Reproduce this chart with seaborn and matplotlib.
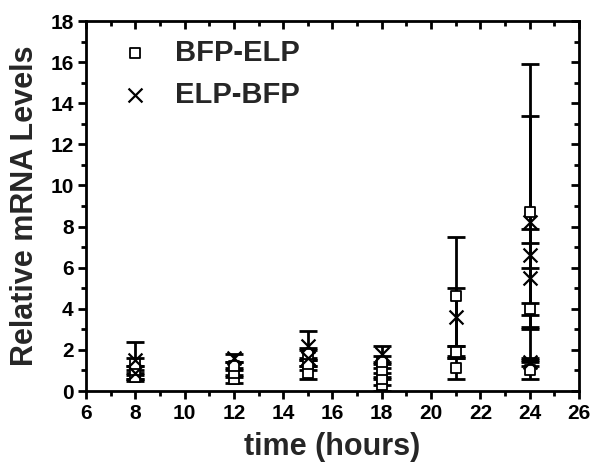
import numpy as np
import pandas as pd
import matplotlib
matplotlib.use("Agg")
import matplotlib.pyplot as plt
import seaborn as sns
from matplotlib.ticker import MultipleLocator

# Replicate measurements of relative mRNA levels over time
bfp_elp_time = [8, 8, 8, 12, 12, 12, 15, 15, 15, 18, 18, 18, 18, 21, 21, 21, 24, 24, 24]
bfp_elp_level = [0.7, 1.0, 1.3, 0.6, 0.9, 1.2, 0.9, 1.3, 1.8, 0.3, 0.6, 1.0, 1.4, 4.6, 1.9, 1.1, 8.7, 4.0, 1.0]
bfp_elp_err = [0.2, 0.2, 0.3, 0.2, 0.2, 0.2, 0.3, 0.3, 0.3, 0.3, 0.3, 0.3, 0.3, 2.9, 0.3, 0.5, 7.2, 0.3, 0.4]

elp_bfp_time = [8, 8, 12, 15, 15, 18, 21, 24, 24, 24, 24]
elp_bfp_level = [1.5, 0.9, 1.6, 2.2, 1.6, 1.8, 3.6, 8.2, 6.6, 5.5, 1.4]
elp_bfp_err = [0.9, 0.3, 0.2, 0.7, 0.4, 0.4, 1.4, 5.2, 0.6, 2.4, 0.2]

x_ticks = [6, 8, 10, 12, 14, 16, 18, 20, 22, 24, 26]
y_ticks = [0, 2, 4, 6, 8, 10, 12, 14, 16, 18]

df_a = pd.DataFrame({"time": bfp_elp_time, "level": bfp_elp_level, "err": bfp_elp_err})
df_b = pd.DataFrame({"time": elp_bfp_time, "level": elp_bfp_level, "err": elp_bfp_err})

sns.set_style("ticks")
plt.rcParams["font.family"] = ["Liberation Sans", "DejaVu Sans"]
plt.rcParams["font.weight"] = "bold"

fig = plt.figure(figsize=(5.92, 4.69), dpi=100)
ax = fig.add_axes([0.1453, 0.1663, 0.8327, 0.7889])

for d in (df_a, df_b):
    ax.errorbar(d["time"], d["level"], yerr=d["err"], fmt="none", ecolor="black",
                elinewidth=2.0, capsize=6.5, capthick=2.0, zorder=2)

sns.scatterplot(data=df_a, x="time", y="level", marker="s", s=55,
                facecolor="white", edgecolor="black", linewidth=1.3,
                ax=ax, zorder=3, label="BFP-ELP")
sns.scatterplot(data=df_b, x="time", y="level", marker="x", s=100,
                color="black", linewidth=1.6, ax=ax, zorder=4, label="ELP-BFP")

ax.set_xlim(6, 26)
ax.set_ylim(0, 18)
ax.set_xticks(x_ticks)
ax.set_yticks(y_ticks)
ax.xaxis.set_minor_locator(MultipleLocator(1))
ax.yaxis.set_minor_locator(MultipleLocator(1))

for side in ["left", "right", "top", "bottom"]:
    ax.spines[side].set_visible(True)
    ax.spines[side].set_linewidth(2.0)
    ax.spines[side].set_color("black")

ax.tick_params(axis="both", which="major", direction="out", length=6, width=2,
               labelsize=15, colors="black", pad=3)
ax.tick_params(axis="both", which="minor", direction="out", length=3.5, width=2, colors="black")
ax.tick_params(top=True, right=True, which="both")
for t in ax.get_xticklabels() + ax.get_yticklabels():
    t.set_fontweight("bold")

# top and right ticks point inward
for tick in ax.xaxis.get_major_ticks() + ax.xaxis.get_minor_ticks():
    tick.tick2line.set_marker(matplotlib.lines.TICKDOWN)
for tick in ax.yaxis.get_major_ticks() + ax.yaxis.get_minor_ticks():
    tick.tick2line.set_marker(matplotlib.lines.TICKLEFT)

ax.set_xlabel("time (hours)", fontsize=22, fontweight="bold", labelpad=7)
ax.set_ylabel("Relative mRNA Levels", fontsize=22, fontweight="bold", labelpad=7)

leg = ax.legend(loc="upper left", frameon=False, fontsize=21, handletextpad=0.35,
                labelspacing=0.5, borderaxespad=0.2, markerscale=1.0,
                bbox_to_anchor=(0.005, 1.0))
for txt in leg.get_texts():
    txt.set_fontweight("bold")

fig.savefig("out.png", dpi=100)
